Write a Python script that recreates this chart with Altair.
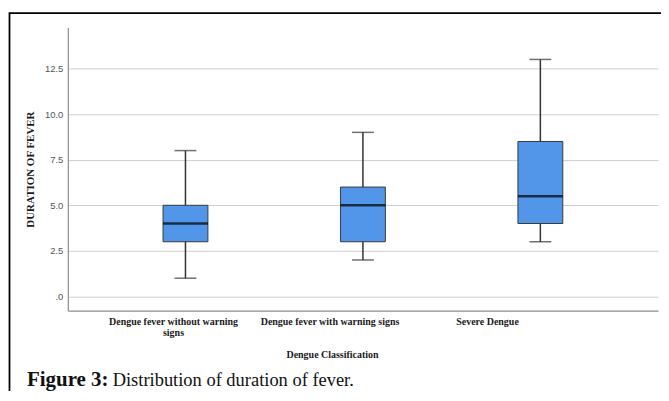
import altair as alt
import pandas as pd

categories = ["Dengue fever without warning signs", "Dengue fever with warning signs", "Severe Dengue"]
mins = [1.0, 2.0, 3.0]
q1s = [3.0, 3.0, 4.0]
medians = [4.0, 5.0, 5.5]
q3s = [5.0, 6.0, 8.5]
maxs = [8.0, 9.0, 13.0]
y_ticks = [0, 2.5, 5, 7.5, 10, 12.5]

df = pd.DataFrame({"cat": categories, "min": mins, "q1": q1s, "med": medians, "q3": q3s, "max": maxs})

W, H = 592, 284
ydom = [-0.78, 14.75]

x = alt.X("cat:N", sort=categories,
          scale=alt.Scale(type="band", paddingInner=0, paddingOuter=0.163),
          axis=alt.Axis(title="Dengue Classification", labelAngle=0, tickSize=0, labelPadding=6,
                        domainColor="#8c8c8c", domainWidth=1.2,
                        labelFont="Liberation Serif", labelFontWeight="bold", labelFontSize=10,
                        labelColor="#1a1a1a", labelLimit=300, labelBaseline="top", labelLineHeight=11,
                        labelExpr="datum.value == 'Dengue fever without warning signs' ? ['Dengue fever without warning', 'signs'] : datum.value",
                        labelOffset={"condition": [
                            {"test": "datum.value === 'Severe Dengue'", "value": -53},
                            {"test": "datum.value === 'Dengue fever with warning signs'", "value": -33}],
                            "value": -12},
                        titleFont="Liberation Serif", titleFontWeight="bold", titleFontSize=10,
                        titleColor="#1a1a1a", titleX=265, titleY=44, titleBaseline="middle",
                        titleAlign="center"))

yscale = alt.Scale(domain=ydom, nice=False, zero=False)
yaxis = alt.Axis(title="DURATION OF FEVER", values=y_ticks, tickSize=0, labelPadding=5,
                 labelExpr="datum.value == 0 ? '.0' : format(datum.value, '.1f')",
                 labelFont="Liberation Sans", labelFontSize=9.5, labelColor="#555555",
                 domainColor="#8c8c8c", domainWidth=1.2, gridColor="#cfcfcf", gridWidth=1,
                 titleFont="Liberation Serif", titleFontWeight="bold", titleFontSize=11,
                 titleColor="#1a1a1a", titleX=-37, titleY=142, titleAngle=270,
                 titleBaseline="middle", titleAlign="center")

base = alt.Chart(df)

whisker = base.mark_rule(color="#333333", strokeWidth=1.5).encode(
    x=x, y=alt.Y("min:Q", scale=yscale, axis=yaxis), y2="max:Q")
caps_min = base.mark_tick(color="#333333", size=22, thickness=1.5).encode(
    x=x, y=alt.Y("min:Q", scale=yscale))
caps_max = base.mark_tick(color="#333333", size=22, thickness=1.5).encode(
    x=x, y=alt.Y("max:Q", scale=yscale))
box = base.mark_bar(size=45, color="#5196e8", stroke="#3a3a3a", strokeWidth=1).encode(
    x=x, y=alt.Y("q1:Q", scale=yscale), y2="q3:Q")
median = base.mark_tick(color="#000000", size=45, thickness=2.5).encode(
    x=x, y=alt.Y("med:Q", scale=yscale))

one = pd.DataFrame({"a": [0]})
border = alt.Chart(one).mark_rect(fill="transparent", stroke="#000000", strokeWidth=1.8).encode(
    x=alt.value(-58.5), x2=alt.value(700), y=alt.value(-14.5), y2=alt.value(520))
cap_bold = alt.Chart(one).mark_text(text="Figure 3:", font="Liberation Serif", fontWeight="bold",
                                    fontSize=21, align="left", baseline="alphabetic", color="#111111").encode(
    x=alt.value(-41), y=alt.value(360))
cap_reg = alt.Chart(one).mark_text(text="Distribution of duration of fever.", font="Liberation Serif",
                                   fontSize=18.5, align="left", baseline="alphabetic", color="#111111").encode(
    x=alt.value(45), y=alt.value(360))

chart = alt.layer(whisker, caps_min, caps_max, box, median, border, cap_bold, cap_reg).properties(
    width=W, height=H,
    autosize=alt.AutoSizeParams(type="none"),
    padding={"left": 60, "top": 19, "right": 3, "bottom": 80},
    background="white",
).configure_view(stroke="transparent")

chart.save("out.html", embed_options={"renderer": "svg", "actions": False})
